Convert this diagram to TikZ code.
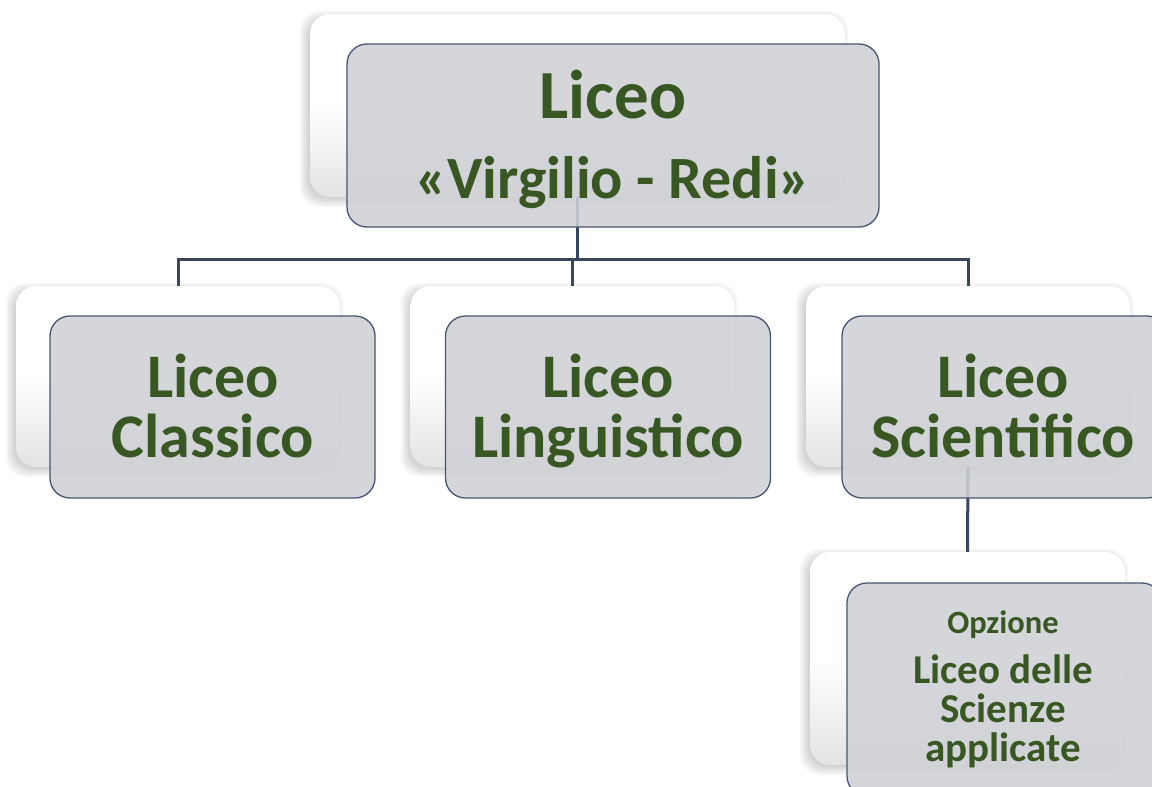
\documentclass[tikz,border=0pt]{standalone}
\usepackage{fontspec}
\setmainfont{Carlito}
\definecolor{txtgreen}{RGB}{56,87,35}
\definecolor{frontfill}{RGB}{207,209,214}
\definecolor{frontdraw}{RGB}{72,86,112}
\definecolor{linecol}{RGB}{58,70,92}
\tikzset{
  backbox/.style={rectangle, rounded corners=20pt, top color=white, bottom color=black!11, middle color=white, draw=none},
  frontbox/.style={rectangle, rounded corners=20pt, fill=frontfill, fill opacity=0.88, draw=frontdraw, line width=1.3pt},
  conn/.style={draw=linecol, line width=3pt},
  txt/.style={text=txtgreen, font=\bfseries, anchor=base, inner sep=0pt},
  big/.style={txt, font=\fontsize{69}{69}\selectfont\bfseries},
  mid/.style={txt, font=\fontsize{62}{62}\selectfont\bfseries},
  sub/.style={txt, font=\fontsize{60}{60}\selectfont\bfseries},
  sml/.style={txt, font=\fontsize{41}{41}\selectfont\bfseries},
  tiny/.style={txt, font=\fontsize{32.5}{32.5}\selectfont\bfseries},
}
% soft shadow: centre x, centre y, width, height
\newcommand\softshade[4]{%
  \foreach \e in {-4,-2,0,2,4,6}{%
    \fill[black, opacity=0.035, rounded corners=20pt]
      ({#1-#3/2-\e-4},{#2-#4/2-\e+3}) rectangle ({#1+#3/2+\e-3},{#2+#4/2+\e+4});
  }%
}
\begin{document}
\begin{tikzpicture}[x=1pt,y=-1pt]
\clip (0,0) rectangle (1152,787);
\fill[white] (0,0) rectangle (1152,787);
% shadows of back boxes
\softshade{577.5}{105.5}{535}{183}
\softshade{178}{376.5}{324}{181}
\softshade{572.5}{376.5}{324}{181}
\softshade{968}{376.5}{324}{181}
\softshade{967.5}{658.5}{315}{213}
% back boxes
\node[backbox, minimum width=535pt, minimum height=183pt] (bk0) at (577.5,105.5) {};
\node[backbox, minimum width=324pt, minimum height=181pt] (bk1) at (178,376.5) {};
\node[backbox, minimum width=324pt, minimum height=181pt] (bk2) at (572.5,376.5) {};
\node[backbox, minimum width=324pt, minimum height=181pt] (bk3) at (968,376.5) {};
\node[backbox, minimum width=315pt, minimum height=213pt] (bk4) at (967.5,658.5) {};
% connectors
\coordinate (j) at (577.5,259.5);
\draw[conn] (bk0.south) -- (j);
\draw[conn] (bk1.north) |- (j);
\draw[conn] (bk3.north) |- (j);
\draw[conn] (bk2.north) -- (bk2.north |- j);
\draw[conn] (bk3.south) -- (bk4.north);
% front boxes
\node[frontbox, minimum width=532pt, minimum height=183pt] (f0) at (613,135.5) {};
\node[frontbox, minimum width=325pt, minimum height=182pt] (f1) at (212.5,407) {};
\node[frontbox, minimum width=325pt, minimum height=182pt] (f2) at (608,407) {};
\node[frontbox, minimum width=325pt, minimum height=182pt] (f3) at (1004.5,407) {};
\node[frontbox, minimum width=315pt, minimum height=213pt] (f4) at (1004.5,689.5) {};
% texts
\node[big] (t0a) at (613,118) {Liceo};
\node[sub] (t0b) at (613,198) {«Virgilio - Redi»};
\node[mid] (t1a) at (213,397) {Liceo};
\node[mid] (t1b) at (213,457) {Classico};
\node[mid] (t2a) at (608,397) {Liceo};
\node[mid] (t2b) at (608,457) {Linguistico};
\node[mid] (t3a) at (1003,397) {Liceo};
\node[mid] (t3b) at (1003,457) {Scientifico};
\node[tiny] (t4a) at (1003,633) {Opzione};
\node[sml] (t4b) at (1003,683) {Liceo delle};
\node[sml] (t4c) at (1003,722) {Scienze};
\node[sml] (t4d) at (1003,761) {applicate};
\end{tikzpicture}
\end{document}
